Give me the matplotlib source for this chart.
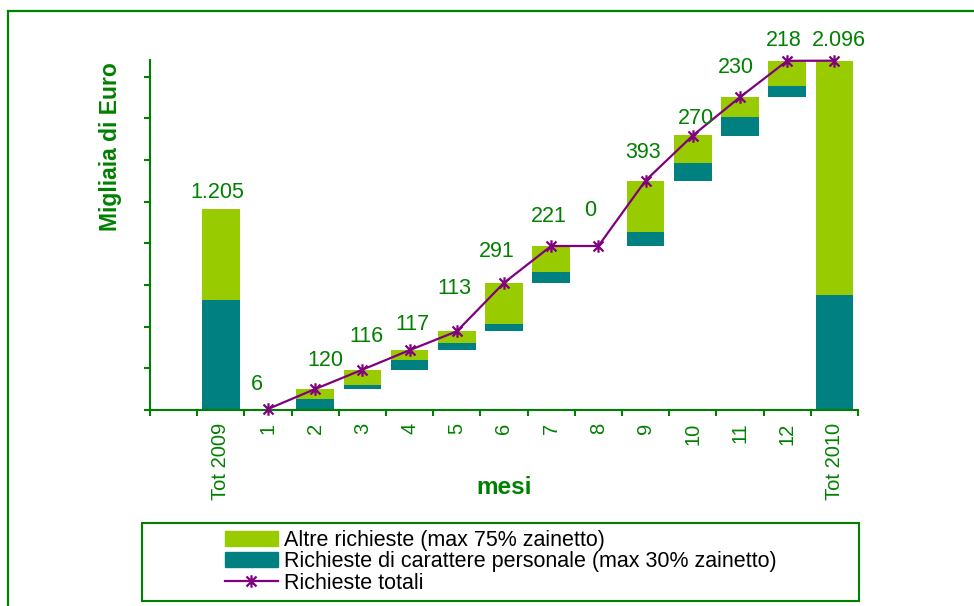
import numpy as np
import matplotlib.pyplot as plt
from matplotlib.path import Path
from matplotlib.patches import Rectangle, Patch
from matplotlib.lines import Line2D

plt.rcParams['font.family'] = ['Liberation Sans', 'DejaVu Sans']

# dati (migliaia di euro)
categorie = ['', 'Tot 2009', '1', '2', '3', '4', '5', '6', '7', '8', '9', '10', '11', '12', 'Tot 2010']
tot2009_pers, tot2009_altre = 660, 545
mesi_pers = [3, 60, 26, 61, 42, 46, 67, 0, 82, 104, 112, 67]
mesi_altre = [3, 60, 90, 56, 71, 245, 154, 0, 311, 166, 118, 151]
tot2010_pers, tot2010_altre = 693, 1403

# spostamenti delle etichette (pixel)
label_dx = [-3, -11, 10, 4, 3, -2, -7, -2, -8, -3, 3, -4, -3, 4]
label_dy = [18, 26, 30, 35, 27, 44, 33, 31, 37, 29, 18, 31, 22, 22]

VERDE = '#008000'
VERDE_CHIARO = '#99CC00'
TEAL = '#008080'
VIOLA = '#800080'

mesi_tot = np.array(mesi_pers) + np.array(mesi_altre)
cum = np.cumsum(mesi_tot)
base_mesi = np.concatenate([[0], cum[:-1]])

pers = np.array([0, tot2009_pers] + mesi_pers + [tot2010_pers])
altre = np.array([0, tot2009_altre] + mesi_altre + [tot2010_altre])
base = np.array([0, 0] + list(base_mesi) + [0])
x = np.arange(len(categorie))

fig = plt.figure(figsize=(9.74, 6.06), dpi=100)
ax = fig.add_axes([150 / 974, 1 - 410 / 606, 708 / 974, 350 / 606])

w = 0.8
ax.bar(x[1:], pers[1:], w, bottom=base[1:], color=TEAL, zorder=2)
ax.bar(x[1:], altre[1:], w, bottom=base[1:] + pers[1:], color=VERDE_CHIARO, zorder=2)

asterisco = Path([(-1, -1), (1, 1), (-1, 1), (1, -1), (0, -1.25), (0, 1.25)],
                 [Path.MOVETO, Path.LINETO, Path.MOVETO, Path.LINETO, Path.MOVETO, Path.LINETO])
linea_x = x[2:]
linea_y = list(cum) + [tot2010_pers + tot2010_altre]
ax.plot(linea_x, linea_y, color=VIOLA, lw=1.6, marker=asterisco, ms=9,
        mew=1.6, mec=VIOLA, zorder=3, clip_on=False)

# etichette
tops = base + pers + altre
valori = pers + altre
for i, k in enumerate(x[1:]):
    testo = f'{int(valori[k]):,}'.replace(',', '.')
    ax.annotate(testo, (k, tops[k]), xytext=(label_dx[i], label_dy[i] - 7),
                textcoords='offset pixels', ha='center', va='baseline',
                fontsize=15.5, color=VERDE, annotation_clip=False)

ax.set_xlim(-0.5, len(categorie) - 0.5)
ax.set_ylim(0, 2100)
ax.set_yticks(np.arange(0, 2001, 250))
ax.set_yticklabels([])
ax.set_xticks(np.arange(-0.5, len(categorie)), labels=[])
ax.set_xticks(x, labels=categorie, minor=True)
ax.tick_params(axis='x', which='minor', length=0, rotation=90, labelsize=14.5,
               labelcolor=VERDE, pad=9)
ax.tick_params(axis='both', which='major', length=4, width=1.5, color=VERDE)

for s in ['top', 'right']:
    ax.spines[s].set_visible(False)
for s in ['left', 'bottom']:
    ax.spines[s].set_color(VERDE)
    ax.spines[s].set_linewidth(1.5)

ax.set_xlabel('mesi', fontsize=17.5, fontweight='bold', color=VERDE)
ax.xaxis.set_label_coords(0.5, -0.19)
fig.text(110 / 974, 1 - 147 / 606, 'Migliaia di Euro', rotation=90, ha='center', va='center',
         fontsize=16.5, fontweight='bold', color=VERDE)

# cornice esterna e riquadro legenda
fig.patches.append(Rectangle((8 / 974, -0.1), 1.2, 1.082, transform=fig.transFigure,
                             fill=False, ec=VERDE, lw=1.6))
fig.patches.append(Rectangle((142 / 974, 1 - 601 / 606), 717 / 974, 78 / 606,
                             transform=fig.transFigure, fill=False, ec=VERDE, lw=1.5))

handles = [Patch(color=VERDE_CHIARO), Patch(color=TEAL),
           Line2D([], [], color=VIOLA, lw=1.6, marker=asterisco, ms=9, mew=1.6, mec=VIOLA)]
etichette = ['Altre richieste (max 75% zainetto)',
             'Richieste di carattere personale (max 30% zainetto)',
             'Richieste totali']
fig.legend(handles, etichette, loc='upper left', bbox_to_anchor=(225 / 974, 1 - 530 / 606),
           frameon=False, fontsize=15.5, borderpad=0, borderaxespad=0, handlelength=2.45,
           handletextpad=0.3, labelspacing=0.02)

fig.savefig('out.png', dpi=100)
